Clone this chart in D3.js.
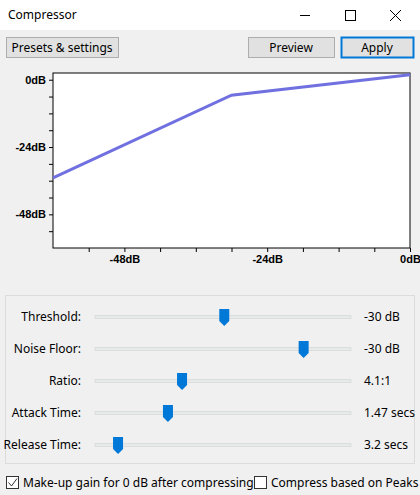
<!DOCTYPE html>
<html><head><meta charset="utf-8">
<script src="https://cdn.jsdelivr.net/npm/d3@7"></script>
<style>
body{margin:0;background:#f0f0f0;font-family:"Segoe UI","Noto Sans",sans-serif;}
</style></head>
<body><svg width="420" height="495"></svg>
<script>
// curve data (input dB -> output dB)
var curveIn = [-60, -30, 0],
    curveOut = [-35, -5.5, 1.8];
var xLabels = [-48, -24, 0], yLabels = [0, -24, -48];
var sliderNames = ["Threshold:", "Noise Floor:", "Ratio:", "Attack Time:", "Release Time:"],
    sliderValues = ["-30 dB", "-30 dB", "4.1:1", "1.47 secs", "3.2 secs"],
    sliderPos = [0.505, 0.815, 0.34, 0.285, 0.09];

var svg = d3.select("svg");
var font = '"Segoe UI","Noto Sans",sans-serif';

// title bar
svg.append("rect").attr("width", 420).attr("height", 30).attr("fill", "#fff");
svg.append("text").attr("x", 8).attr("y", 19).attr("font-size", 12).attr("font-family", font).text("Compressor");
svg.append("line").attr("x1", 300).attr("x2", 310).attr("y1", 15.5).attr("y2", 15.5).attr("stroke", "#000");
svg.append("rect").attr("x", 345.5).attr("y", 10.5).attr("width", 10).attr("height", 10).attr("fill", "none").attr("stroke", "#000");
svg.append("path").attr("d", "M390,10L401,21M401,10L390,21").attr("stroke", "#000");

// buttons
function button(x, y, w, h, label, def) {
    svg.append("rect").attr("x", x + .5).attr("y", y + .5).attr("width", w).attr("height", h)
        .attr("fill", "#e1e1e1").attr("stroke", def ? "#0078d7" : "#adadad").attr("stroke-width", def ? 2 : 1);
    svg.append("text").attr("x", x + w / 2).attr("y", y + h / 2 + 4.5).attr("text-anchor", "middle")
        .attr("font-size", 12).attr("font-family", font).text(label);
}
button(6, 37, 112, 20, "Presets & settings");
button(248, 37, 86, 20, "Preview");
button(341, 37, 72, 20, "Apply", true);

// chart
var x = d3.scaleLinear().domain([-60, 0]).range([53, 410]),
    y = d3.scaleLinear().domain([-60, 2.4]).range([248, 73]);
var g = svg.append("g");
g.append("rect").attr("x", x(-60)).attr("y", y(2.4)).attr("width", x(0) - x(-60)).attr("height", y(-60) - y(2.4))
    .attr("fill", "#fff").attr("stroke", "#000");
g.append("g").attr("transform", "translate(0," + y(-60) + ")")
    .call(d3.axisBottom(x).tickValues(d3.range(-54, 1, 6)).tickSize(4).tickFormat(function(d) {
        return xLabels.indexOf(d) >= 0 ? d + "dB" : "";
    }))
    .call(function(a) { a.select(".domain").remove(); });
g.append("g").attr("transform", "translate(" + x(-60) + ",0)")
    .call(d3.axisLeft(y).tickValues(d3.range(-54, 1, 6)).tickSize(4).tickFormat(function(d) {
        return yLabels.indexOf(d) >= 0 ? d + "dB" : "";
    }))
    .call(function(a) { a.select(".domain").remove(); });
g.selectAll(".tick text").attr("font-size", 11).attr("font-weight", "bold").attr("font-family", "Arial,Liberation Sans,sans-serif").attr("fill", "#000");
g.selectAll(".tick line").attr("stroke", "#000");

var line = d3.line().x(function(d) { return x(d[0]); }).y(function(d) { return y(d[1]); });
g.append("path").datum(d3.zip(curveIn, curveOut)).attr("d", line)
    .attr("fill", "none").attr("stroke", "#7070e0").attr("stroke-width", 3);

// slider group
svg.append("rect").attr("x", 5.5).attr("y", 295.5).attr("width", 409).attr("height", 168)
    .attr("fill", "none").attr("stroke", "#dcdcdc");
var s = d3.scaleLinear().domain([0, 1]).range([95, 351]);
var rowY = d3.scalePoint().domain(sliderNames).range([317, 445]);
var rows = svg.selectAll(".row").data(sliderNames).enter().append("g")
    .attr("transform", function(d) { return "translate(0," + rowY(d) + ")"; });
rows.append("text").attr("x", 81).attr("y", 4).attr("text-anchor", "end").attr("font-size", 12).attr("font-family", font)
    .text(function(d) { return d; });
rows.append("rect").attr("x", s(0)).attr("y", -1.5).attr("width", s(1) - s(0)).attr("height", 3)
    .attr("fill", "#e7eaea").attr("stroke", "#d6d6d6").attr("stroke-width", .7);
rows.append("path").attr("transform", function(d, i) { return "translate(" + s(sliderPos[i]) + ",0)"; })
    .attr("d", "M-5,-8H5V4L0,9L-5,4Z").attr("fill", "#0078d7");
rows.append("text").attr("x", 364).attr("y", 4).attr("font-size", 12).attr("font-family", font)
    .text(function(d, i) { return sliderValues[i]; });

// checkboxes
svg.append("rect").attr("x", 6.5).attr("y", 476.5).attr("width", 12).attr("height", 12).attr("fill", "#fff").attr("stroke", "#333");
svg.append("path").attr("d", "M8.5,482.5L11.5,486L17,478.5").attr("fill", "none").attr("stroke", "#333");
svg.append("text").attr("x", 23).attr("y", 487).attr("font-size", 12).attr("font-family", font).text("Make-up gain for 0 dB after compressing");
svg.append("rect").attr("x", 254.5).attr("y", 476.5).attr("width", 12).attr("height", 12).attr("fill", "#fff").attr("stroke", "#333");
svg.append("text").attr("x", 271).attr("y", 487).attr("font-size", 12).attr("font-family", font).text("Compress based on Peaks");
</script></body></html>
